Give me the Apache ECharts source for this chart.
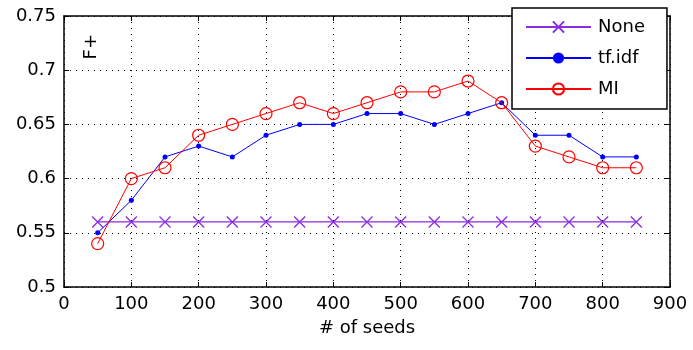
<!DOCTYPE html>
<html>
<head>
<meta charset="utf-8">
<script src="https://cdn.jsdelivr.net/npm/echarts@6/dist/echarts.min.js"></script>
<style>
    html, body { margin: 0; padding: 0; background: #fff; }
    #chart { width: 693px; height: 350px; }
</style>
</head>
<body>
<div id="chart"></div>
<script>
// seeds on the x axis
const seeds = [50, 100, 150, 200, 250, 300, 350, 400, 450, 500, 550, 600, 650, 700, 750, 800, 850];
const noneValues = [0.56, 0.56, 0.56, 0.56, 0.56, 0.56, 0.56, 0.56, 0.56, 0.56, 0.56, 0.56, 0.56, 0.56, 0.56, 0.56, 0.56];
const tfidfValues = [0.55, 0.58, 0.62, 0.63, 0.62, 0.64, 0.65, 0.65, 0.66, 0.66, 0.65, 0.66, 0.67, 0.64, 0.64, 0.62, 0.62];
const miValues = [0.54, 0.60, 0.61, 0.64, 0.65, 0.66, 0.67, 0.66, 0.67, 0.68, 0.68, 0.69, 0.67, 0.63, 0.62, 0.61, 0.61];
const seriesNames = ['None', 'tf.idf', 'MI'];

const FONT = 'DejaVu Sans, sans-serif';
const CROSS = 'path://M0,0L10,10M10,0L0,10';

function toPoints(values) {
    return seeds.map((s, i) => [s, values[i]]);
}

const gridLine = {
    show: true,
    lineStyle: { color: '#000', type: [1, 5], width: 1 },
};

const xAxisBase = {
    type: 'value',
    min: 0,
    max: 900,
    interval: 100,
    axisLine: { show: true, onZero: false, lineStyle: { color: '#000', width: 1.5 } },
    axisTick: { show: true, inside: true, length: 5, lineStyle: { color: '#000' } },
};
const yAxisBase = {
    type: 'value',
    min: 0.5,
    max: 0.75,
    interval: 0.05,
    axisLine: { show: true, onZero: false, lineStyle: { color: '#000', width: 1.5 } },
    axisTick: { show: true, inside: true, length: 5, lineStyle: { color: '#000' } },
};

const option = {
    animation: false,
    backgroundColor: '#fff',
    textStyle: { fontFamily: FONT },
    grid: { left: 64, right: 23, top: 16, bottom: 63 },
    legend: {
        data: seriesNames,
        orient: 'vertical',
        left: 512,
        top: 8,
        padding: [10, 22, 11, 13],
        itemGap: 13,
        itemWidth: 65,
        itemHeight: 14,
        backgroundColor: '#fff',
        borderColor: '#000',
        borderWidth: 1.5,
        borderRadius: 0,
        textStyle: { fontSize: 18, color: '#000', fontFamily: FONT, padding: [0, 0, 0, 2] },
    },
    xAxis: [
        {
            ...xAxisBase,
            position: 'bottom',
            name: '# of seeds',
            nameLocation: 'middle',
            nameGap: 32,
            nameTextStyle: { fontSize: 18, color: '#000', fontFamily: FONT },
            axisLabel: { fontSize: 18, color: '#000', margin: 8, fontFamily: FONT },
            splitLine: gridLine,
        },
        {
            ...xAxisBase,
            position: 'top',
            axisLabel: { show: false },
            splitLine: { show: false },
        },
    ],
    yAxis: [
        {
            ...yAxisBase,
            position: 'left',
            axisLabel: { fontSize: 18, color: '#000', margin: 8, fontFamily: FONT },
            splitLine: gridLine,
        },
        {
            ...yAxisBase,
            position: 'right',
            axisLabel: { show: false },
            splitLine: { show: false },
        },
    ],
    graphic: [
        {
            type: 'text',
            left: 82,
            top: 34,
            rotation: Math.PI / 2,
            style: { text: 'F+', fontSize: 18, fill: '#000', fontFamily: FONT },
        },
    ],
    series: [
        {
            name: 'None',
            type: 'line',
            data: toPoints(noneValues),
            symbol: CROSS,
            symbolSize: 11,
            lineStyle: { color: '#8b2be2', width: 1.2 },
            itemStyle: { color: 'rgba(0,0,0,0)', borderColor: '#8b2be2', borderWidth: 1.3 },
            z: 2,
        },
        {
            name: 'tf.idf',
            type: 'line',
            data: toPoints(tfidfValues),
            symbol: 'circle',
            symbolSize: 5,
            lineStyle: { color: '#0000ff', width: 1 },
            itemStyle: { color: '#0000ff' },
            z: 3,
        },
        {
            name: 'MI',
            type: 'line',
            data: toPoints(miValues),
            symbol: 'circle',
            symbolSize: 12,
            lineStyle: { color: '#ff0000', width: 1 },
            itemStyle: { color: 'rgba(0,0,0,0)', borderColor: '#ff0000', borderWidth: 1.2 },
            z: 4,
        },
    ],
};

const chart = echarts.init(document.getElementById('chart'));
chart.setOption(option);
</script>
</body>
</html>
